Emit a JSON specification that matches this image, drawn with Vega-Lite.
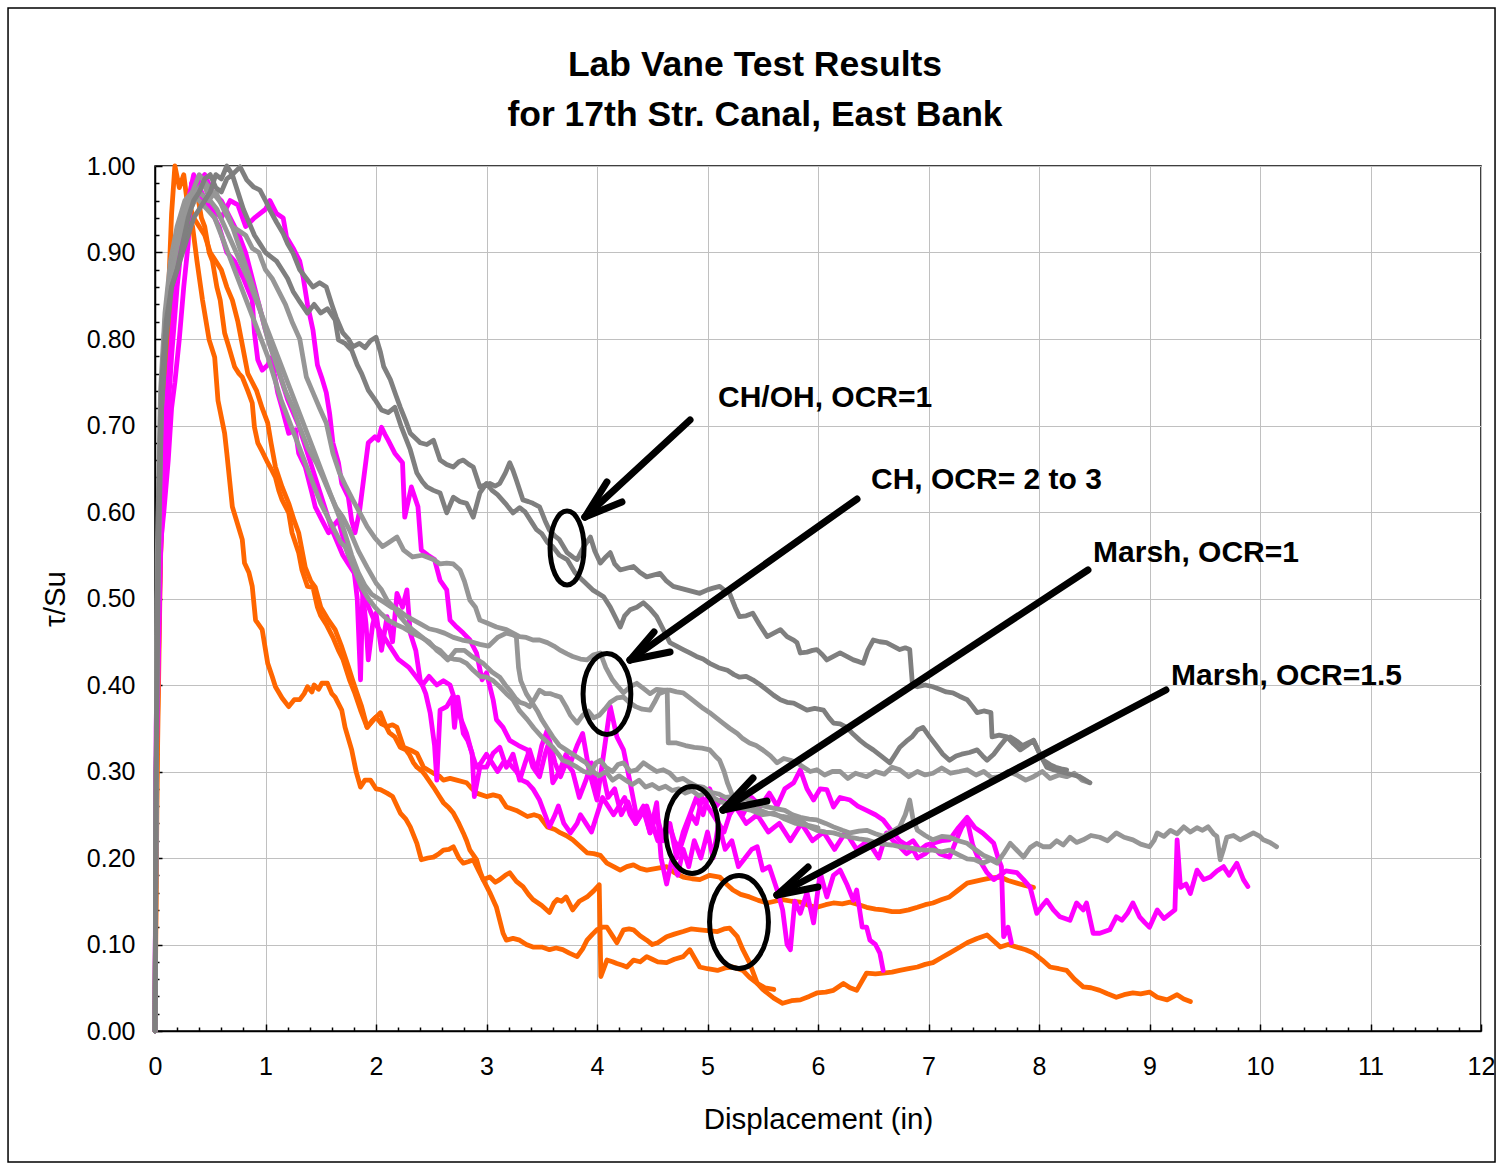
{
"$schema":"https://vega.github.io/schema/vega-lite/v6.json",
"autosize":{"type":"none"},
"padding":{"left":155,"top":166,"right":17,"bottom":135},
"width":1326,"height":865,
"background":"white",
"config":{"font":"Liberation Sans","view":{"stroke":"black","strokeWidth":1.5},
 "axis":{"domainColor":"black","domainWidth":1.5,"tickColor":"black","tickWidth":1.5,"gridColor":"#c0c0c0","gridWidth":1,"labelColor":"black","titleColor":"black","labelFont":"Liberation Sans","titleFont":"Liberation Sans","labelFontSize":25,"titleFontSize":29.5,"titleFontWeight":"normal","labelOverlap":false,"labelFlush":false}},
"title":{"text":["Lab Vane Test Results","for 17th Str. Canal, East Bank"],"font":"Liberation Sans","fontSize":35.5,"fontWeight":"bold","lineHeight":50,"anchor":"middle","frame":"group","dx":-63,"dy":126,"offset":0,"color":"black"},
"resolve":{"axis":{"x":"independent","y":"independent"}},
"datasets":{
"lines":[
{"s":"O1","x":0,"y":0},{"s":"O1","x":0.01,"y":0.2},{"s":"O1","x":0.03,"y":0.45},{"s":"O1","x":0.06,"y":0.62},{"s":"O1","x":0.1,"y":0.78},{"s":"O1","x":0.13,"y":0.88},{"s":"O1","x":0.15,"y":0.945},{"s":"O1","x":0.18,"y":1.0},{"s":"O1","x":0.22,"y":0.975},{"s":"O1","x":0.26,"y":0.99},{"s":"O1","x":0.3,"y":0.95},{"s":"O1","x":0.34,"y":0.93},{"s":"O1","x":0.38,"y":0.89},{"s":"O1","x":0.43,"y":0.845},{"s":"O1","x":0.49,"y":0.799},{"s":"O1","x":0.54,"y":0.779},{"s":"O1","x":0.57,"y":0.729},{"s":"O1","x":0.63,"y":0.691},{"s":"O1","x":0.65,"y":0.668},{"s":"O1","x":0.7,"y":0.606},{"s":"O1","x":0.75,"y":0.585},{"s":"O1","x":0.79,"y":0.568},{"s":"O1","x":0.81,"y":0.541},{"s":"O1","x":0.85,"y":0.53},{"s":"O1","x":0.88,"y":0.514},{"s":"O1","x":0.91,"y":0.475},{"s":"O1","x":0.97,"y":0.464},{"s":"O1","x":1.02,"y":0.425},{"s":"O1","x":1.06,"y":0.41},{"s":"O1","x":1.09,"y":0.398},{"s":"O1","x":1.15,"y":0.385},{"s":"O1","x":1.21,"y":0.375},{"s":"O1","x":1.26,"y":0.383},{"s":"O1","x":1.31,"y":0.383},{"s":"O1","x":1.35,"y":0.39},{"s":"O1","x":1.38,"y":0.398},{"s":"O1","x":1.42,"y":0.392},{"s":"O1","x":1.44,"y":0.4},{"s":"O1","x":1.48,"y":0.395},{"s":"O1","x":1.51,"y":0.402},{"s":"O1","x":1.56,"y":0.402},{"s":"O1","x":1.6,"y":0.39},{"s":"O1","x":1.63,"y":0.386},{"s":"O1","x":1.69,"y":0.371},{"s":"O1","x":1.72,"y":0.351},{"s":"O1","x":1.78,"y":0.325},{"s":"O1","x":1.82,"y":0.3},{"s":"O1","x":1.86,"y":0.282},{"s":"O1","x":1.9,"y":0.29},{"s":"O1","x":1.95,"y":0.29},{"s":"O1","x":2.0,"y":0.28},{"s":"O1","x":2.04,"y":0.279},{"s":"O1","x":2.1,"y":0.275},{"s":"O1","x":2.15,"y":0.271},{"s":"O1","x":2.22,"y":0.252},{"s":"O1","x":2.27,"y":0.245},{"s":"O1","x":2.31,"y":0.236},{"s":"O1","x":2.37,"y":0.217},{"s":"O1","x":2.41,"y":0.198},{"s":"O1","x":2.47,"y":0.2},{"s":"O1","x":2.52,"y":0.201},{"s":"O1","x":2.57,"y":0.205},{"s":"O1","x":2.61,"y":0.209},{"s":"O1","x":2.66,"y":0.21},{"s":"O1","x":2.7,"y":0.213},{"s":"O1","x":2.75,"y":0.2},{"s":"O1","x":2.79,"y":0.194},{"s":"O1","x":2.84,"y":0.196},{"s":"O1","x":2.88,"y":0.198},{"s":"O1","x":2.93,"y":0.185},{"s":"O1","x":2.97,"y":0.175},{"s":"O1","x":3.03,"y":0.178},{"s":"O1","x":3.08,"y":0.172},{"s":"O1","x":3.12,"y":0.175},{"s":"O1","x":3.17,"y":0.18},{"s":"O1","x":3.21,"y":0.183},{"s":"O1","x":3.27,"y":0.173},{"s":"O1","x":3.33,"y":0.167},{"s":"O1","x":3.38,"y":0.158},{"s":"O1","x":3.42,"y":0.152},{"s":"O1","x":3.5,"y":0.145},{"s":"O1","x":3.57,"y":0.137},{"s":"O1","x":3.61,"y":0.148},{"s":"O1","x":3.64,"y":0.152},{"s":"O1","x":3.68,"y":0.15},{"s":"O1","x":3.72,"y":0.155},{"s":"O1","x":3.78,"y":0.14},{"s":"O1","x":3.84,"y":0.15},{"s":"O1","x":3.91,"y":0.155},{"s":"O1","x":3.97,"y":0.162},{"s":"O1","x":4.02,"y":0.169},{"s":"O1","x":4.035,"y":0.063},{"s":"O1","x":4.09,"y":0.082},{"s":"O1","x":4.14,"y":0.08},{"s":"O1","x":4.18,"y":0.078},{"s":"O1","x":4.23,"y":0.076},{"s":"O1","x":4.27,"y":0.074},{"s":"O1","x":4.33,"y":0.082},{"s":"O1","x":4.39,"y":0.08},{"s":"O1","x":4.45,"y":0.086},{"s":"O1","x":4.5,"y":0.083},{"s":"O1","x":4.55,"y":0.08},{"s":"O1","x":4.63,"y":0.079},{"s":"O1","x":4.7,"y":0.083},{"s":"O1","x":4.78,"y":0.086},{"s":"O1","x":4.84,"y":0.094},{"s":"O1","x":4.88,"y":0.085},{"s":"O1","x":4.93,"y":0.074},{"s":"O1","x":5.0,"y":0.072},{"s":"O1","x":5.09,"y":0.07},{"s":"O1","x":5.16,"y":0.073},{"s":"O1","x":5.23,"y":0.074},{"s":"O1","x":5.32,"y":0.07},{"s":"O1","x":5.38,"y":0.062},{"s":"O1","x":5.45,"y":0.055},{"s":"O1","x":5.52,"y":0.05},{"s":"O1","x":5.6,"y":0.048},
{"s":"O2","x":0,"y":0},{"s":"O2","x":0.01,"y":0.25},{"s":"O2","x":0.04,"y":0.5},{"s":"O2","x":0.08,"y":0.68},{"s":"O2","x":0.12,"y":0.8},{"s":"O2","x":0.17,"y":0.88},{"s":"O2","x":0.22,"y":0.93},{"s":"O2","x":0.27,"y":0.95},{"s":"O2","x":0.3,"y":0.97},{"s":"O2","x":0.34,"y":0.96},{"s":"O2","x":0.38,"y":0.97},{"s":"O2","x":0.42,"y":0.94},{"s":"O2","x":0.45,"y":0.93},{"s":"O2","x":0.49,"y":0.9},{"s":"O2","x":0.52,"y":0.89},{"s":"O2","x":0.56,"y":0.86},{"s":"O2","x":0.59,"y":0.845},{"s":"O2","x":0.63,"y":0.807},{"s":"O2","x":0.67,"y":0.79},{"s":"O2","x":0.72,"y":0.768},{"s":"O2","x":0.76,"y":0.76},{"s":"O2","x":0.79,"y":0.756},{"s":"O2","x":0.84,"y":0.74},{"s":"O2","x":0.88,"y":0.726},{"s":"O2","x":0.9,"y":0.698},{"s":"O2","x":0.93,"y":0.68},{"s":"O2","x":0.97,"y":0.67},{"s":"O2","x":1.02,"y":0.657},{"s":"O2","x":1.05,"y":0.65},{"s":"O2","x":1.09,"y":0.64},{"s":"O2","x":1.12,"y":0.625},{"s":"O2","x":1.15,"y":0.614},{"s":"O2","x":1.21,"y":0.599},{"s":"O2","x":1.24,"y":0.576},{"s":"O2","x":1.3,"y":0.553},{"s":"O2","x":1.33,"y":0.533},{"s":"O2","x":1.38,"y":0.514},{"s":"O2","x":1.43,"y":0.513},{"s":"O2","x":1.47,"y":0.49},{"s":"O2","x":1.5,"y":0.48},{"s":"O2","x":1.55,"y":0.47},{"s":"O2","x":1.61,"y":0.455},{"s":"O2","x":1.66,"y":0.44},{"s":"O2","x":1.7,"y":0.43},{"s":"O2","x":1.76,"y":0.406},{"s":"O2","x":1.81,"y":0.39},{"s":"O2","x":1.86,"y":0.371},{"s":"O2","x":1.92,"y":0.351},{"s":"O2","x":1.98,"y":0.36},{"s":"O2","x":2.04,"y":0.368},{"s":"O2","x":2.08,"y":0.355},{"s":"O2","x":2.12,"y":0.345},{"s":"O2","x":2.17,"y":0.34},{"s":"O2","x":2.22,"y":0.328},{"s":"O2","x":2.27,"y":0.325},{"s":"O2","x":2.3,"y":0.32},{"s":"O2","x":2.34,"y":0.31},{"s":"O2","x":2.37,"y":0.305},{"s":"O2","x":2.42,"y":0.3},{"s":"O2","x":2.45,"y":0.295},{"s":"O2","x":2.52,"y":0.282},{"s":"O2","x":2.57,"y":0.272},{"s":"O2","x":2.61,"y":0.264},{"s":"O2","x":2.66,"y":0.258},{"s":"O2","x":2.7,"y":0.252},{"s":"O2","x":2.75,"y":0.24},{"s":"O2","x":2.79,"y":0.229},{"s":"O2","x":2.82,"y":0.22},{"s":"O2","x":2.85,"y":0.209},{"s":"O2","x":2.91,"y":0.198},{"s":"O2","x":2.94,"y":0.185},{"s":"O2","x":2.97,"y":0.175},{"s":"O2","x":3.03,"y":0.16},{"s":"O2","x":3.09,"y":0.143},{"s":"O2","x":3.15,"y":0.113},{"s":"O2","x":3.18,"y":0.105},{"s":"O2","x":3.24,"y":0.107},{"s":"O2","x":3.3,"y":0.105},{"s":"O2","x":3.36,"y":0.1},{"s":"O2","x":3.42,"y":0.097},{"s":"O2","x":3.5,"y":0.097},{"s":"O2","x":3.57,"y":0.094},{"s":"O2","x":3.63,"y":0.096},{"s":"O2","x":3.69,"y":0.094},{"s":"O2","x":3.75,"y":0.09},{"s":"O2","x":3.82,"y":0.086},{"s":"O2","x":3.87,"y":0.095},{"s":"O2","x":3.91,"y":0.105},{"s":"O2","x":3.96,"y":0.112},{"s":"O2","x":4.0,"y":0.117},{"s":"O2","x":4.05,"y":0.12},{"s":"O2","x":4.09,"y":0.12},{"s":"O2","x":4.14,"y":0.11},{"s":"O2","x":4.18,"y":0.102},{"s":"O2","x":4.24,"y":0.117},{"s":"O2","x":4.29,"y":0.118},{"s":"O2","x":4.33,"y":0.117},{"s":"O2","x":4.39,"y":0.11},{"s":"O2","x":4.45,"y":0.105},{"s":"O2","x":4.5,"y":0.1},{"s":"O2","x":4.55,"y":0.102},{"s":"O2","x":4.63,"y":0.109},{"s":"O2","x":4.7,"y":0.112},{"s":"O2","x":4.78,"y":0.115},{"s":"O2","x":4.85,"y":0.118},{"s":"O2","x":4.93,"y":0.117},{"s":"O2","x":5.0,"y":0.116},{"s":"O2","x":5.09,"y":0.115},{"s":"O2","x":5.15,"y":0.118},{"s":"O2","x":5.2,"y":0.119},{"s":"O2","x":5.27,"y":0.109},{"s":"O2","x":5.32,"y":0.094},{"s":"O2","x":5.38,"y":0.079},{"s":"O2","x":5.45,"y":0.055},{"s":"O2","x":5.5,"y":0.048},{"s":"O2","x":5.54,"y":0.044},{"s":"O2","x":5.6,"y":0.038},{"s":"O2","x":5.68,"y":0.032},{"s":"O2","x":5.76,"y":0.035},{"s":"O2","x":5.84,"y":0.036},{"s":"O2","x":5.92,"y":0.04},{"s":"O2","x":5.99,"y":0.044},{"s":"O2","x":6.07,"y":0.045},{"s":"O2","x":6.14,"y":0.047},{"s":"O2","x":6.23,"y":0.055},{"s":"O2","x":6.29,"y":0.05},{"s":"O2","x":6.35,"y":0.047},{"s":"O2","x":6.44,"y":0.067},{"s":"O2","x":6.52,"y":0.066},{"s":"O2","x":6.59,"y":0.067},{"s":"O2","x":6.67,"y":0.068},{"s":"O2","x":6.74,"y":0.07},{"s":"O2","x":6.82,"y":0.072},{"s":"O2","x":6.9,"y":0.074},{"s":"O2","x":6.97,"y":0.077},{"s":"O2","x":7.04,"y":0.079},{"s":"O2","x":7.12,"y":0.085},{"s":"O2","x":7.19,"y":0.09},{"s":"O2","x":7.27,"y":0.096},{"s":"O2","x":7.35,"y":0.102},{"s":"O2","x":7.44,"y":0.107},{"s":"O2","x":7.53,"y":0.111},{"s":"O2","x":7.59,"y":0.104},{"s":"O2","x":7.65,"y":0.097},{"s":"O2","x":7.72,"y":0.1},{"s":"O2","x":7.8,"y":0.097},{"s":"O2","x":7.88,"y":0.094},{"s":"O2","x":7.95,"y":0.09},{"s":"O2","x":8.03,"y":0.082},{"s":"O2","x":8.1,"y":0.074},{"s":"O2","x":8.18,"y":0.072},{"s":"O2","x":8.25,"y":0.07},{"s":"O2","x":8.32,"y":0.06},{"s":"O2","x":8.4,"y":0.051},{"s":"O2","x":8.47,"y":0.05},{"s":"O2","x":8.55,"y":0.047},{"s":"O2","x":8.62,"y":0.043},{"s":"O2","x":8.7,"y":0.039},{"s":"O2","x":8.77,"y":0.042},{"s":"O2","x":8.85,"y":0.044},{"s":"O2","x":8.92,"y":0.043},{"s":"O2","x":9.0,"y":0.045},{"s":"O2","x":9.07,"y":0.039},{"s":"O2","x":9.16,"y":0.036},{"s":"O2","x":9.25,"y":0.042},{"s":"O2","x":9.31,"y":0.037},{"s":"O2","x":9.37,"y":0.034},
{"s":"O3","x":0,"y":0},{"s":"O3","x":0.02,"y":0.3},{"s":"O3","x":0.05,"y":0.55},{"s":"O3","x":0.09,"y":0.72},{"s":"O3","x":0.13,"y":0.82},{"s":"O3","x":0.18,"y":0.88},{"s":"O3","x":0.22,"y":0.92},{"s":"O3","x":0.26,"y":0.95},{"s":"O3","x":0.3,"y":0.96},{"s":"O3","x":0.35,"y":0.94},{"s":"O3","x":0.4,"y":0.93},{"s":"O3","x":0.45,"y":0.92},{"s":"O3","x":0.5,"y":0.9},{"s":"O3","x":0.55,"y":0.89},{"s":"O3","x":0.6,"y":0.88},{"s":"O3","x":0.65,"y":0.86},{"s":"O3","x":0.7,"y":0.845},{"s":"O3","x":0.75,"y":0.82},{"s":"O3","x":0.78,"y":0.8},{"s":"O3","x":0.84,"y":0.76},{"s":"O3","x":0.88,"y":0.75},{"s":"O3","x":0.92,"y":0.74},{"s":"O3","x":0.97,"y":0.72},{"s":"O3","x":1.02,"y":0.703},{"s":"O3","x":1.05,"y":0.68},{"s":"O3","x":1.09,"y":0.652},{"s":"O3","x":1.15,"y":0.629},{"s":"O3","x":1.21,"y":0.61},{"s":"O3","x":1.26,"y":0.59},{"s":"O3","x":1.3,"y":0.576},{"s":"O3","x":1.36,"y":0.536},{"s":"O3","x":1.41,"y":0.52},{"s":"O3","x":1.45,"y":0.513},{"s":"O3","x":1.5,"y":0.49},{"s":"O3","x":1.57,"y":0.475},{"s":"O3","x":1.63,"y":0.464},{"s":"O3","x":1.69,"y":0.444},{"s":"O3","x":1.75,"y":0.421},{"s":"O3","x":1.79,"y":0.405},{"s":"O3","x":1.83,"y":0.39},{"s":"O3","x":1.87,"y":0.375},{"s":"O3","x":1.92,"y":0.351},{"s":"O3","x":1.96,"y":0.358},{"s":"O3","x":2.0,"y":0.363},{"s":"O3","x":2.05,"y":0.355},{"s":"O3","x":2.1,"y":0.352},{"s":"O3","x":2.15,"y":0.354},{"s":"O3","x":2.19,"y":0.351},{"s":"O3","x":2.25,"y":0.328},{"s":"O3","x":2.31,"y":0.325},{"s":"O3","x":2.37,"y":0.321},{"s":"O3","x":2.43,"y":0.305},{"s":"O3","x":2.52,"y":0.298},{"s":"O3","x":2.57,"y":0.295},{"s":"O3","x":2.61,"y":0.29},{"s":"O3","x":2.67,"y":0.292},{"s":"O3","x":2.73,"y":0.29},{"s":"O3","x":2.82,"y":0.287},{"s":"O3","x":2.87,"y":0.28},{"s":"O3","x":2.91,"y":0.275},{"s":"O3","x":3.0,"y":0.271},{"s":"O3","x":3.06,"y":0.273},{"s":"O3","x":3.12,"y":0.271},{"s":"O3","x":3.18,"y":0.259},{"s":"O3","x":3.27,"y":0.255},{"s":"O3","x":3.37,"y":0.248},{"s":"O3","x":3.43,"y":0.25},{"s":"O3","x":3.48,"y":0.248},{"s":"O3","x":3.55,"y":0.236},{"s":"O3","x":3.62,"y":0.233},{"s":"O3","x":3.67,"y":0.229},{"s":"O3","x":3.72,"y":0.226},{"s":"O3","x":3.78,"y":0.221},{"s":"O3","x":3.85,"y":0.213},{"s":"O3","x":3.91,"y":0.206},{"s":"O3","x":3.97,"y":0.205},{"s":"O3","x":4.03,"y":0.203},{"s":"O3","x":4.09,"y":0.194},{"s":"O3","x":4.15,"y":0.19},{"s":"O3","x":4.21,"y":0.186},{"s":"O3","x":4.27,"y":0.19},{"s":"O3","x":4.33,"y":0.192},{"s":"O3","x":4.39,"y":0.188},{"s":"O3","x":4.45,"y":0.186},{"s":"O3","x":4.54,"y":0.188},{"s":"O3","x":4.63,"y":0.19},{"s":"O3","x":4.7,"y":0.183},{"s":"O3","x":4.78,"y":0.178},{"s":"O3","x":4.86,"y":0.176},{"s":"O3","x":4.93,"y":0.175},{"s":"O3","x":5.02,"y":0.18},{"s":"O3","x":5.11,"y":0.178},{"s":"O3","x":5.17,"y":0.17},{"s":"O3","x":5.23,"y":0.163},{"s":"O3","x":5.3,"y":0.158},{"s":"O3","x":5.38,"y":0.155},{"s":"O3","x":5.46,"y":0.151},{"s":"O3","x":5.54,"y":0.148},{"s":"O3","x":5.61,"y":0.15},{"s":"O3","x":5.68,"y":0.152},{"s":"O3","x":5.76,"y":0.15},{"s":"O3","x":5.84,"y":0.149},{"s":"O3","x":5.92,"y":0.145},{"s":"O3","x":5.99,"y":0.143},{"s":"O3","x":6.07,"y":0.146},{"s":"O3","x":6.14,"y":0.148},{"s":"O3","x":6.22,"y":0.147},{"s":"O3","x":6.29,"y":0.149},{"s":"O3","x":6.37,"y":0.146},{"s":"O3","x":6.44,"y":0.143},{"s":"O3","x":6.52,"y":0.141},{"s":"O3","x":6.59,"y":0.14},{"s":"O3","x":6.67,"y":0.138},{"s":"O3","x":6.74,"y":0.138},{"s":"O3","x":6.82,"y":0.14},{"s":"O3","x":6.9,"y":0.143},{"s":"O3","x":6.97,"y":0.146},{"s":"O3","x":7.04,"y":0.148},{"s":"O3","x":7.12,"y":0.152},{"s":"O3","x":7.19,"y":0.155},{"s":"O3","x":7.27,"y":0.163},{"s":"O3","x":7.35,"y":0.171},{"s":"O3","x":7.42,"y":0.173},{"s":"O3","x":7.49,"y":0.175},{"s":"O3","x":7.57,"y":0.177},{"s":"O3","x":7.65,"y":0.178},{"s":"O3","x":7.72,"y":0.174},{"s":"O3","x":7.8,"y":0.171},{"s":"O3","x":7.88,"y":0.168},{"s":"O3","x":7.95,"y":0.166},
{"s":"MA","x":0,"y":0},{"s":"MA","x":0.01,"y":0.35},{"s":"MA","x":0.04,"y":0.55},{"s":"MA","x":0.08,"y":0.6},{"s":"MA","x":0.12,"y":0.66},{"s":"MA","x":0.15,"y":0.72},{"s":"MA","x":0.18,"y":0.75},{"s":"MA","x":0.22,"y":0.8},{"s":"MA","x":0.26,"y":0.86},{"s":"MA","x":0.3,"y":0.91},{"s":"MA","x":0.33,"y":0.98},{"s":"MA","x":0.38,"y":0.97},{"s":"MA","x":0.45,"y":0.96},{"s":"MA","x":0.52,"y":0.95},{"s":"MA","x":0.6,"y":0.94},{"s":"MA","x":0.68,"y":0.96},{"s":"MA","x":0.75,"y":0.955},{"s":"MA","x":0.82,"y":0.93},{"s":"MA","x":0.9,"y":0.94},{"s":"MA","x":1.0,"y":0.95},{"s":"MA","x":1.04,"y":0.96},{"s":"MA","x":1.1,"y":0.945},{"s":"MA","x":1.16,"y":0.94},{"s":"MA","x":1.19,"y":0.918},{"s":"MA","x":1.25,"y":0.905},{"s":"MA","x":1.31,"y":0.89},{"s":"MA","x":1.34,"y":0.872},{"s":"MA","x":1.38,"y":0.84},{"s":"MA","x":1.43,"y":0.81},{"s":"MA","x":1.47,"y":0.77},{"s":"MA","x":1.51,"y":0.755},{"s":"MA","x":1.55,"y":0.738},{"s":"MA","x":1.58,"y":0.714},{"s":"MA","x":1.61,"y":0.68},{"s":"MA","x":1.66,"y":0.657},{"s":"MA","x":1.69,"y":0.633},{"s":"MA","x":1.75,"y":0.617},{"s":"MA","x":1.78,"y":0.59},{"s":"MA","x":1.81,"y":0.576},{"s":"MA","x":1.85,"y":0.6},{"s":"MA","x":1.89,"y":0.64},{"s":"MA","x":1.93,"y":0.68},{"s":"MA","x":1.99,"y":0.687},{"s":"MA","x":2.02,"y":0.683},{"s":"MA","x":2.05,"y":0.698},{"s":"MA","x":2.08,"y":0.69},{"s":"MA","x":2.11,"y":0.683},{"s":"MA","x":2.17,"y":0.668},{"s":"MA","x":2.24,"y":0.657},{"s":"MA","x":2.26,"y":0.594},{"s":"MA","x":2.32,"y":0.629},{"s":"MA","x":2.38,"y":0.606},{"s":"MA","x":2.41,"y":0.556},{"s":"MA","x":2.47,"y":0.55},{"s":"MA","x":2.53,"y":0.545},{"s":"MA","x":2.58,"y":0.521},{"s":"MA","x":2.64,"y":0.51},{"s":"MA","x":2.67,"y":0.475},{"s":"MA","x":2.73,"y":0.467},{"s":"MA","x":2.79,"y":0.46},{"s":"MA","x":2.85,"y":0.452},{"s":"MA","x":2.91,"y":0.437},{"s":"MA","x":2.96,"y":0.406},{"s":"MA","x":3.0,"y":0.414},{"s":"MA","x":3.06,"y":0.383},{"s":"MA","x":3.09,"y":0.36},{"s":"MA","x":3.15,"y":0.351},{"s":"MA","x":3.21,"y":0.336},{"s":"MA","x":3.29,"y":0.33},{"s":"MA","x":3.37,"y":0.325},{"s":"MA","x":3.42,"y":0.305},{"s":"MA","x":3.48,"y":0.294},{"s":"MA","x":3.53,"y":0.32},{"s":"MA","x":3.57,"y":0.336},{"s":"MA","x":3.62,"y":0.31},{"s":"MA","x":3.67,"y":0.294},{"s":"MA","x":3.72,"y":0.31},{"s":"MA","x":3.78,"y":0.3},{"s":"MA","x":3.84,"y":0.27},{"s":"MA","x":3.9,"y":0.29},{"s":"MA","x":3.95,"y":0.31},{"s":"MA","x":4.0,"y":0.28},{"s":"MA","x":4.05,"y":0.3},{"s":"MA","x":4.1,"y":0.27},{"s":"MA","x":4.16,"y":0.28},{"s":"MA","x":4.22,"y":0.25},{"s":"MA","x":4.28,"y":0.265},{"s":"MA","x":4.35,"y":0.24},{"s":"MA","x":4.42,"y":0.255},{"s":"MA","x":4.48,"y":0.229},{"s":"MA","x":4.54,"y":0.264},{"s":"MA","x":4.58,"y":0.2},{"s":"MA","x":4.63,"y":0.17},{"s":"MA","x":4.68,"y":0.2},{"s":"MA","x":4.73,"y":0.18},{"s":"MA","x":4.78,"y":0.21},{"s":"MA","x":4.83,"y":0.19},{"s":"MA","x":4.88,"y":0.22},{"s":"MA","x":4.94,"y":0.2},{"s":"MA","x":5.0,"y":0.23},{"s":"MA","x":5.05,"y":0.2},{"s":"MA","x":5.1,"y":0.24},{"s":"MA","x":5.16,"y":0.21},{"s":"MA","x":5.22,"y":0.22},{"s":"MA","x":5.28,"y":0.19},{"s":"MA","x":5.34,"y":0.2},{"s":"MA","x":5.4,"y":0.21},{"s":"MA","x":5.45,"y":0.213},{"s":"MA","x":5.5,"y":0.186},{"s":"MA","x":5.56,"y":0.19},{"s":"MA","x":5.63,"y":0.163},{"s":"MA","x":5.68,"y":0.14},{"s":"MA","x":5.72,"y":0.1},{"s":"MA","x":5.75,"y":0.094},{"s":"MA","x":5.79,"y":0.15},{"s":"MA","x":5.84,"y":0.136},{"s":"MA","x":5.9,"y":0.16},{"s":"MA","x":5.96,"y":0.125},{"s":"MA","x":6.02,"y":0.183},{"s":"MA","x":6.08,"y":0.155},{"s":"MA","x":6.14,"y":0.18},{"s":"MA","x":6.2,"y":0.186},{"s":"MA","x":6.26,"y":0.17},{"s":"MA","x":6.32,"y":0.151},{"s":"MA","x":6.35,"y":0.163},{"s":"MA","x":6.4,"y":0.12},{"s":"MA","x":6.44,"y":0.12},{"s":"MA","x":6.47,"y":0.105},{"s":"MA","x":6.52,"y":0.1},{"s":"MA","x":6.56,"y":0.09},{"s":"MA","x":6.59,"y":0.07},
{"s":"MB","x":0,"y":0},{"s":"MB","x":0.01,"y":0.3},{"s":"MB","x":0.05,"y":0.6},{"s":"MB","x":0.1,"y":0.72},{"s":"MB","x":0.15,"y":0.8},{"s":"MB","x":0.2,"y":0.88},{"s":"MB","x":0.25,"y":0.93},{"s":"MB","x":0.3,"y":0.96},{"s":"MB","x":0.35,"y":0.99},{"s":"MB","x":0.42,"y":0.97},{"s":"MB","x":0.5,"y":0.95},{"s":"MB","x":0.58,"y":0.93},{"s":"MB","x":0.65,"y":0.9},{"s":"MB","x":0.72,"y":0.89},{"s":"MB","x":0.8,"y":0.87},{"s":"MB","x":0.88,"y":0.845},{"s":"MB","x":0.9,"y":0.807},{"s":"MB","x":0.93,"y":0.776},{"s":"MB","x":0.97,"y":0.764},{"s":"MB","x":1.02,"y":0.77},{"s":"MB","x":1.06,"y":0.779},{"s":"MB","x":1.08,"y":0.76},{"s":"MB","x":1.11,"y":0.738},{"s":"MB","x":1.15,"y":0.72},{"s":"MB","x":1.21,"y":0.691},{"s":"MB","x":1.27,"y":0.695},{"s":"MB","x":1.3,"y":0.668},{"s":"MB","x":1.33,"y":0.66},{"s":"MB","x":1.36,"y":0.652},{"s":"MB","x":1.42,"y":0.622},{"s":"MB","x":1.45,"y":0.606},{"s":"MB","x":1.51,"y":0.591},{"s":"MB","x":1.57,"y":0.576},{"s":"MB","x":1.62,"y":0.585},{"s":"MB","x":1.66,"y":0.591},{"s":"MB","x":1.69,"y":0.576},{"s":"MB","x":1.75,"y":0.55},{"s":"MB","x":1.79,"y":0.545},{"s":"MB","x":1.83,"y":0.5},{"s":"MB","x":1.86,"y":0.406},{"s":"MB","x":1.88,"y":0.506},{"s":"MB","x":1.91,"y":0.47},{"s":"MB","x":1.93,"y":0.429},{"s":"MB","x":1.97,"y":0.47},{"s":"MB","x":2.0,"y":0.483},{"s":"MB","x":2.05,"y":0.44},{"s":"MB","x":2.1,"y":0.479},{"s":"MB","x":2.15,"y":0.45},{"s":"MB","x":2.19,"y":0.506},{"s":"MB","x":2.24,"y":0.49},{"s":"MB","x":2.28,"y":0.51},{"s":"MB","x":2.31,"y":0.46},{"s":"MB","x":2.36,"y":0.44},{"s":"MB","x":2.4,"y":0.406},{"s":"MB","x":2.45,"y":0.39},{"s":"MB","x":2.49,"y":0.368},{"s":"MB","x":2.53,"y":0.33},{"s":"MB","x":2.55,"y":0.29},{"s":"MB","x":2.58,"y":0.371},{"s":"MB","x":2.64,"y":0.375},{"s":"MB","x":2.69,"y":0.386},{"s":"MB","x":2.71,"y":0.351},{"s":"MB","x":2.74,"y":0.386},{"s":"MB","x":2.79,"y":0.344},{"s":"MB","x":2.83,"y":0.336},{"s":"MB","x":2.87,"y":0.321},{"s":"MB","x":2.89,"y":0.271},{"s":"MB","x":2.94,"y":0.305},{"s":"MB","x":3.0,"y":0.305},{"s":"MB","x":3.06,"y":0.321},{"s":"MB","x":3.12,"y":0.328},{"s":"MB","x":3.18,"y":0.305},{"s":"MB","x":3.24,"y":0.32},{"s":"MB","x":3.3,"y":0.29},{"s":"MB","x":3.35,"y":0.31},{"s":"MB","x":3.39,"y":0.325},{"s":"MB","x":3.45,"y":0.3},{"s":"MB","x":3.5,"y":0.33},{"s":"MB","x":3.55,"y":0.348},{"s":"MB","x":3.6,"y":0.287},{"s":"MB","x":3.66,"y":0.3},{"s":"MB","x":3.72,"y":0.32},{"s":"MB","x":3.76,"y":0.31},{"s":"MB","x":3.82,"y":0.33},{"s":"MB","x":3.87,"y":0.344},{"s":"MB","x":3.93,"y":0.3},{"s":"MB","x":4.0,"y":0.267},{"s":"MB","x":4.06,"y":0.32},{"s":"MB","x":4.12,"y":0.375},{"s":"MB","x":4.18,"y":0.34},{"s":"MB","x":4.24,"y":0.325},{"s":"MB","x":4.3,"y":0.287},{"s":"MB","x":4.36,"y":0.247},{"s":"MB","x":4.42,"y":0.26},{"s":"MB","x":4.48,"y":0.229},{"s":"MB","x":4.54,"y":0.25},{"s":"MB","x":4.6,"y":0.22},{"s":"MB","x":4.66,"y":0.24},{"s":"MB","x":4.72,"y":0.2},{"s":"MB","x":4.78,"y":0.23},{"s":"MB","x":4.84,"y":0.25},{"s":"MB","x":4.9,"y":0.27},{"s":"MB","x":4.96,"y":0.25},{"s":"MB","x":5.02,"y":0.28},{"s":"MB","x":5.08,"y":0.26},{"s":"MB","x":5.14,"y":0.27},{"s":"MB","x":5.2,"y":0.25},{"s":"MB","x":5.26,"y":0.265},{"s":"MB","x":5.32,"y":0.25},{"s":"MB","x":5.4,"y":0.27},{"s":"MB","x":5.48,"y":0.26},{"s":"MB","x":5.56,"y":0.275},{"s":"MB","x":5.63,"y":0.26},{"s":"MB","x":5.7,"y":0.28},{"s":"MB","x":5.78,"y":0.287},{"s":"MB","x":5.84,"y":0.302},{"s":"MB","x":5.9,"y":0.28},{"s":"MB","x":5.96,"y":0.267},{"s":"MB","x":6.02,"y":0.28},{"s":"MB","x":6.08,"y":0.279},{"s":"MB","x":6.14,"y":0.259},{"s":"MB","x":6.2,"y":0.27},{"s":"MB","x":6.29,"y":0.267},{"s":"MB","x":6.36,"y":0.26},{"s":"MB","x":6.44,"y":0.255},{"s":"MB","x":6.52,"y":0.25},{"s":"MB","x":6.59,"y":0.244},{"s":"MB","x":6.68,"y":0.229},{"s":"MB","x":6.74,"y":0.22},{"s":"MB","x":6.8,"y":0.215},{"s":"MB","x":6.86,"y":0.22},{"s":"MB","x":6.92,"y":0.209},{"s":"MB","x":6.98,"y":0.215},{"s":"MB","x":7.04,"y":0.217},{"s":"MB","x":7.12,"y":0.22},{"s":"MB","x":7.19,"y":0.221},{"s":"MB","x":7.27,"y":0.235},{"s":"MB","x":7.35,"y":0.247},{"s":"MB","x":7.42,"y":0.235},{"s":"MB","x":7.49,"y":0.229},{"s":"MB","x":7.55,"y":0.222},{"s":"MB","x":7.59,"y":0.217},{"s":"MB","x":7.63,"y":0.2},{"s":"MB","x":7.66,"y":0.19},{"s":"MB","x":7.68,"y":0.109},{"s":"MB","x":7.72,"y":0.12},{"s":"MB","x":7.75,"y":0.102},
{"s":"MC","x":0,"y":0},{"s":"MC","x":0.01,"y":0.3},{"s":"MC","x":0.05,"y":0.55},{"s":"MC","x":0.1,"y":0.68},{"s":"MC","x":0.15,"y":0.78},{"s":"MC","x":0.2,"y":0.86},{"s":"MC","x":0.25,"y":0.92},{"s":"MC","x":0.3,"y":0.95},{"s":"MC","x":0.38,"y":0.98},{"s":"MC","x":0.45,"y":0.99},{"s":"MC","x":0.52,"y":0.97},{"s":"MC","x":0.6,"y":0.96},{"s":"MC","x":0.68,"y":0.94},{"s":"MC","x":0.76,"y":0.92},{"s":"MC","x":0.82,"y":0.9},{"s":"MC","x":0.88,"y":0.87},{"s":"MC","x":0.94,"y":0.84},{"s":"MC","x":1.0,"y":0.81},{"s":"MC","x":1.05,"y":0.79},{"s":"MC","x":1.1,"y":0.77},{"s":"MC","x":1.15,"y":0.75},{"s":"MC","x":1.2,"y":0.73},{"s":"MC","x":1.25,"y":0.715},{"s":"MC","x":1.3,"y":0.7},{"s":"MC","x":1.35,"y":0.68},{"s":"MC","x":1.4,"y":0.66},{"s":"MC","x":1.45,"y":0.64},{"s":"MC","x":1.5,"y":0.62},{"s":"MC","x":1.55,"y":0.6},{"s":"MC","x":1.6,"y":0.58},{"s":"MC","x":1.65,"y":0.565},{"s":"MC","x":1.7,"y":0.55},{"s":"MC","x":1.75,"y":0.54},{"s":"MC","x":1.8,"y":0.53},{"s":"MC","x":1.85,"y":0.515},{"s":"MC","x":1.9,"y":0.5},{"s":"MC","x":1.95,"y":0.485},{"s":"MC","x":2.0,"y":0.47},{"s":"MC","x":2.05,"y":0.46},{"s":"MC","x":2.1,"y":0.45},{"s":"MC","x":2.15,"y":0.44},{"s":"MC","x":2.2,"y":0.43},{"s":"MC","x":2.25,"y":0.425},{"s":"MC","x":2.3,"y":0.42},{"s":"MC","x":2.36,"y":0.41},{"s":"MC","x":2.42,"y":0.4},{"s":"MC","x":2.48,"y":0.41},{"s":"MC","x":2.55,"y":0.4},{"s":"MC","x":2.61,"y":0.405},{"s":"MC","x":2.67,"y":0.4},{"s":"MC","x":2.72,"y":0.38},{"s":"MC","x":2.77,"y":0.36},{"s":"MC","x":2.82,"y":0.344},{"s":"MC","x":2.87,"y":0.32},{"s":"MC","x":2.91,"y":0.305},{"s":"MC","x":2.95,"y":0.31},{"s":"MC","x":3.0,"y":0.32},{"s":"MC","x":3.05,"y":0.31},{"s":"MC","x":3.1,"y":0.3},{"s":"MC","x":3.15,"y":0.31},{"s":"MC","x":3.2,"y":0.31},{"s":"MC","x":3.27,"y":0.3},{"s":"MC","x":3.32,"y":0.29},{"s":"MC","x":3.37,"y":0.287},{"s":"MC","x":3.42,"y":0.28},{"s":"MC","x":3.48,"y":0.267},{"s":"MC","x":3.53,"y":0.25},{"s":"MC","x":3.57,"y":0.236},{"s":"MC","x":3.62,"y":0.25},{"s":"MC","x":3.65,"y":0.26},{"s":"MC","x":3.7,"y":0.24},{"s":"MC","x":3.76,"y":0.229},{"s":"MC","x":3.82,"y":0.24},{"s":"MC","x":3.85,"y":0.25},{"s":"MC","x":3.9,"y":0.24},{"s":"MC","x":3.95,"y":0.23},{"s":"MC","x":4.0,"y":0.25},{"s":"MC","x":4.05,"y":0.27},{"s":"MC","x":4.1,"y":0.26},{"s":"MC","x":4.15,"y":0.25},{"s":"MC","x":4.2,"y":0.26},{"s":"MC","x":4.25,"y":0.27},{"s":"MC","x":4.3,"y":0.25},{"s":"MC","x":4.35,"y":0.24},{"s":"MC","x":4.4,"y":0.25},{"s":"MC","x":4.45,"y":0.26},{"s":"MC","x":4.5,"y":0.24},{"s":"MC","x":4.55,"y":0.22},{"s":"MC","x":4.6,"y":0.23},{"s":"MC","x":4.65,"y":0.24},{"s":"MC","x":4.7,"y":0.22},{"s":"MC","x":4.75,"y":0.21},{"s":"MC","x":4.8,"y":0.23},{"s":"MC","x":4.85,"y":0.25},{"s":"MC","x":4.9,"y":0.24},{"s":"MC","x":4.95,"y":0.27},{"s":"MC","x":5.0,"y":0.26},{"s":"MC","x":5.05,"y":0.25},{"s":"MC","x":5.1,"y":0.24},{"s":"MC","x":5.15,"y":0.23},{"s":"MC","x":5.2,"y":0.25},{"s":"MC","x":5.25,"y":0.26},{"s":"MC","x":5.3,"y":0.25},{"s":"MC","x":5.35,"y":0.24},{"s":"MC","x":5.4,"y":0.245},{"s":"MC","x":5.45,"y":0.25},{"s":"MC","x":5.5,"y":0.24},{"s":"MC","x":5.55,"y":0.23},{"s":"MC","x":5.6,"y":0.235},{"s":"MC","x":5.65,"y":0.24},{"s":"MC","x":5.7,"y":0.23},{"s":"MC","x":5.75,"y":0.22},{"s":"MC","x":5.8,"y":0.23},{"s":"MC","x":5.85,"y":0.24},{"s":"MC","x":5.9,"y":0.23},{"s":"MC","x":5.95,"y":0.22},{"s":"MC","x":6.0,"y":0.225},{"s":"MC","x":6.05,"y":0.23},{"s":"MC","x":6.1,"y":0.22},{"s":"MC","x":6.15,"y":0.21},{"s":"MC","x":6.2,"y":0.22},{"s":"MC","x":6.25,"y":0.23},{"s":"MC","x":6.3,"y":0.22},{"s":"MC","x":6.35,"y":0.21},{"s":"MC","x":6.4,"y":0.215},{"s":"MC","x":6.45,"y":0.22},{"s":"MC","x":6.5,"y":0.21},{"s":"MC","x":6.55,"y":0.2},{"s":"MC","x":6.62,"y":0.229},{"s":"MC","x":6.68,"y":0.22},{"s":"MC","x":6.74,"y":0.213},{"s":"MC","x":6.8,"y":0.205},{"s":"MC","x":6.86,"y":0.21},{"s":"MC","x":6.9,"y":0.2},{"s":"MC","x":6.97,"y":0.205},{"s":"MC","x":7.04,"y":0.213},{"s":"MC","x":7.1,"y":0.205},{"s":"MC","x":7.19,"y":0.201},{"s":"MC","x":7.25,"y":0.22},{"s":"MC","x":7.3,"y":0.235},{"s":"MC","x":7.35,"y":0.244},{"s":"MC","x":7.4,"y":0.215},{"s":"MC","x":7.45,"y":0.2},{"s":"MC","x":7.53,"y":0.183},{"s":"MC","x":7.59,"y":0.175},{"s":"MC","x":7.65,"y":0.18},{"s":"MC","x":7.7,"y":0.185},{"s":"MC","x":7.8,"y":0.183},{"s":"MC","x":7.86,"y":0.175},{"s":"MC","x":7.92,"y":0.166},{"s":"MC","x":7.98,"y":0.136},{"s":"MC","x":8.03,"y":0.145},{"s":"MC","x":8.07,"y":0.151},{"s":"MC","x":8.13,"y":0.14},{"s":"MC","x":8.19,"y":0.132},{"s":"MC","x":8.28,"y":0.128},{"s":"MC","x":8.34,"y":0.148},{"s":"MC","x":8.4,"y":0.14},{"s":"MC","x":8.43,"y":0.148},{"s":"MC","x":8.49,"y":0.113},{"s":"MC","x":8.55,"y":0.113},{"s":"MC","x":8.64,"y":0.117},{"s":"MC","x":8.7,"y":0.132},{"s":"MC","x":8.75,"y":0.128},{"s":"MC","x":8.8,"y":0.136},{"s":"MC","x":8.85,"y":0.148},{"s":"MC","x":8.91,"y":0.132},{"s":"MC","x":8.96,"y":0.125},{"s":"MC","x":9.0,"y":0.12},{"s":"MC","x":9.07,"y":0.14},{"s":"MC","x":9.13,"y":0.13},{"s":"MC","x":9.19,"y":0.136},{"s":"MC","x":9.23,"y":0.14},{"s":"MC","x":9.25,"y":0.221},{"s":"MC","x":9.28,"y":0.166},{"s":"MC","x":9.33,"y":0.17},{"s":"MC","x":9.37,"y":0.159},{"s":"MC","x":9.43,"y":0.186},{"s":"MC","x":9.49,"y":0.175},{"s":"MC","x":9.55,"y":0.178},{"s":"MC","x":9.61,"y":0.185},{"s":"MC","x":9.67,"y":0.19},{"s":"MC","x":9.72,"y":0.18},{"s":"MC","x":9.79,"y":0.194},{"s":"MC","x":9.85,"y":0.175},{"s":"MC","x":9.89,"y":0.167},
{"s":"LG1","x":0,"y":0},{"s":"LG1","x":0.02,"y":0.55},{"s":"LG1","x":0.05,"y":0.74},{"s":"LG1","x":0.09,"y":0.83},{"s":"LG1","x":0.14,"y":0.89},{"s":"LG1","x":0.2,"y":0.93},{"s":"LG1","x":0.27,"y":0.96},{"s":"LG1","x":0.34,"y":0.97},{"s":"LG1","x":0.4,"y":0.96},{"s":"LG1","x":0.47,"y":0.95},{"s":"LG1","x":0.54,"y":0.94},{"s":"LG1","x":0.6,"y":0.92},{"s":"LG1","x":0.66,"y":0.9},{"s":"LG1","x":0.72,"y":0.88},{"s":"LG1","x":0.78,"y":0.86},{"s":"LG1","x":0.84,"y":0.84},{"s":"LG1","x":0.9,"y":0.82},{"s":"LG1","x":0.96,"y":0.8},{"s":"LG1","x":1.02,"y":0.78},{"s":"LG1","x":1.08,"y":0.755},{"s":"LG1","x":1.14,"y":0.73},{"s":"LG1","x":1.2,"y":0.71},{"s":"LG1","x":1.26,"y":0.69},{"s":"LG1","x":1.32,"y":0.67},{"s":"LG1","x":1.38,"y":0.65},{"s":"LG1","x":1.44,"y":0.63},{"s":"LG1","x":1.5,"y":0.61},{"s":"LG1","x":1.56,"y":0.595},{"s":"LG1","x":1.62,"y":0.58},{"s":"LG1","x":1.68,"y":0.565},{"s":"LG1","x":1.72,"y":0.56},{"s":"LG1","x":1.8,"y":0.535},{"s":"LG1","x":1.87,"y":0.513},{"s":"LG1","x":1.93,"y":0.5},{"s":"LG1","x":1.99,"y":0.49},{"s":"LG1","x":2.05,"y":0.482},{"s":"LG1","x":2.11,"y":0.475},{"s":"LG1","x":2.18,"y":0.47},{"s":"LG1","x":2.25,"y":0.466},{"s":"LG1","x":2.33,"y":0.46},{"s":"LG1","x":2.41,"y":0.455},{"s":"LG1","x":2.48,"y":0.45},{"s":"LG1","x":2.55,"y":0.44},{"s":"LG1","x":2.6,"y":0.435},{"s":"LG1","x":2.65,"y":0.429},{"s":"LG1","x":2.72,"y":0.44},{"s":"LG1","x":2.8,"y":0.44},{"s":"LG1","x":2.88,"y":0.432},{"s":"LG1","x":2.97,"y":0.425},{"s":"LG1","x":3.05,"y":0.415},{"s":"LG1","x":3.12,"y":0.409},{"s":"LG1","x":3.17,"y":0.4},{"s":"LG1","x":3.21,"y":0.394},{"s":"LG1","x":3.26,"y":0.385},{"s":"LG1","x":3.3,"y":0.38},{"s":"LG1","x":3.35,"y":0.378},{"s":"LG1","x":3.39,"y":0.375},{"s":"LG1","x":3.44,"y":0.385},{"s":"LG1","x":3.48,"y":0.394},{"s":"LG1","x":3.53,"y":0.39},{"s":"LG1","x":3.58,"y":0.39},{"s":"LG1","x":3.62,"y":0.388},{"s":"LG1","x":3.67,"y":0.386},{"s":"LG1","x":3.72,"y":0.375},{"s":"LG1","x":3.76,"y":0.365},{"s":"LG1","x":3.82,"y":0.356},{"s":"LG1","x":3.87,"y":0.365},{"s":"LG1","x":3.92,"y":0.37},{"s":"LG1","x":3.97,"y":0.362},{"s":"LG1","x":4.02,"y":0.365},{"s":"LG1","x":4.07,"y":0.372},{"s":"LG1","x":4.12,"y":0.38},{"s":"LG1","x":4.18,"y":0.385},{"s":"LG1","x":4.24,"y":0.386},{"s":"LG1","x":4.29,"y":0.38},{"s":"LG1","x":4.35,"y":0.375},{"s":"LG1","x":4.41,"y":0.372},{"s":"LG1","x":4.48,"y":0.371},{"s":"LG1","x":4.52,"y":0.38},{"s":"LG1","x":4.56,"y":0.39},{"s":"LG1","x":4.6,"y":0.392},{"s":"LG1","x":4.635,"y":0.394},{"s":"LG1","x":4.645,"y":0.333},{"s":"LG1","x":4.72,"y":0.333},{"s":"LG1","x":4.8,"y":0.33},{"s":"LG1","x":4.88,"y":0.328},{"s":"LG1","x":4.95,"y":0.327},{"s":"LG1","x":5.02,"y":0.325},{"s":"LG1","x":5.07,"y":0.318},{"s":"LG1","x":5.11,"y":0.313},{"s":"LG1","x":5.15,"y":0.3},{"s":"LG1","x":5.18,"y":0.287},{"s":"LG1","x":5.23,"y":0.271},{"s":"LG1","x":5.3,"y":0.27},{"s":"LG1","x":5.38,"y":0.267},{"s":"LG1","x":5.46,"y":0.262},{"s":"LG1","x":5.54,"y":0.259},{"s":"LG1","x":5.62,"y":0.257},{"s":"LG1","x":5.7,"y":0.255},{"s":"LG1","x":5.77,"y":0.25},{"s":"LG1","x":5.84,"y":0.247},{"s":"LG1","x":5.92,"y":0.245},{"s":"LG1","x":5.99,"y":0.244},{"s":"LG1","x":6.07,"y":0.24},{"s":"LG1","x":6.14,"y":0.236},{"s":"LG1","x":6.22,"y":0.232},{"s":"LG1","x":6.29,"y":0.229},{"s":"LG1","x":6.37,"y":0.231},{"s":"LG1","x":6.44,"y":0.232},{"s":"LG1","x":6.52,"y":0.228},{"s":"LG1","x":6.59,"y":0.225},{"s":"LG1","x":6.66,"y":0.23},{"s":"LG1","x":6.74,"y":0.236},{"s":"LG1","x":6.79,"y":0.25},{"s":"LG1","x":6.83,"y":0.267},{"s":"LG1","x":6.86,"y":0.245},{"s":"LG1","x":6.9,"y":0.232},{"s":"LG1","x":6.97,"y":0.226},{"s":"LG1","x":7.04,"y":0.221},{"s":"LG1","x":7.12,"y":0.225},{"s":"LG1","x":7.19,"y":0.224},{"s":"LG1","x":7.27,"y":0.22},{"s":"LG1","x":7.35,"y":0.217},{"s":"LG1","x":7.42,"y":0.21},{"s":"LG1","x":7.5,"y":0.203},{"s":"LG1","x":7.59,"y":0.198},
{"s":"LG2","x":0,"y":0},{"s":"LG2","x":0.02,"y":0.5},{"s":"LG2","x":0.05,"y":0.72},{"s":"LG2","x":0.09,"y":0.82},{"s":"LG2","x":0.14,"y":0.88},{"s":"LG2","x":0.2,"y":0.92},{"s":"LG2","x":0.27,"y":0.95},{"s":"LG2","x":0.34,"y":0.97},{"s":"LG2","x":0.4,"y":0.99},{"s":"LG2","x":0.46,"y":0.98},{"s":"LG2","x":0.52,"y":0.97},{"s":"LG2","x":0.58,"y":0.96},{"s":"LG2","x":0.64,"y":0.95},{"s":"LG2","x":0.7,"y":0.93},{"s":"LG2","x":0.76,"y":0.925},{"s":"LG2","x":0.82,"y":0.92},{"s":"LG2","x":0.88,"y":0.905},{"s":"LG2","x":0.94,"y":0.9},{"s":"LG2","x":1.0,"y":0.88},{"s":"LG2","x":1.06,"y":0.87},{"s":"LG2","x":1.12,"y":0.855},{"s":"LG2","x":1.18,"y":0.84},{"s":"LG2","x":1.24,"y":0.82},{"s":"LG2","x":1.31,"y":0.8},{"s":"LG2","x":1.37,"y":0.756},{"s":"LG2","x":1.43,"y":0.738},{"s":"LG2","x":1.49,"y":0.72},{"s":"LG2","x":1.55,"y":0.703},{"s":"LG2","x":1.61,"y":0.668},{"s":"LG2","x":1.67,"y":0.645},{"s":"LG2","x":1.73,"y":0.629},{"s":"LG2","x":1.79,"y":0.614},{"s":"LG2","x":1.85,"y":0.6},{"s":"LG2","x":1.92,"y":0.583},{"s":"LG2","x":1.99,"y":0.57},{"s":"LG2","x":2.06,"y":0.56},{"s":"LG2","x":2.12,"y":0.565},{"s":"LG2","x":2.19,"y":0.571},{"s":"LG2","x":2.25,"y":0.556},{"s":"LG2","x":2.33,"y":0.548},{"s":"LG2","x":2.42,"y":0.55},{"s":"LG2","x":2.52,"y":0.545},{"s":"LG2","x":2.58,"y":0.54},{"s":"LG2","x":2.64,"y":0.541},{"s":"LG2","x":2.7,"y":0.54},{"s":"LG2","x":2.76,"y":0.533},{"s":"LG2","x":2.8,"y":0.52},{"s":"LG2","x":2.85,"y":0.498},{"s":"LG2","x":2.9,"y":0.49},{"s":"LG2","x":2.94,"y":0.475},{"s":"LG2","x":3.0,"y":0.472},{"s":"LG2","x":3.09,"y":0.467},{"s":"LG2","x":3.18,"y":0.464},{"s":"LG2","x":3.24,"y":0.46},{"s":"LG2","x":3.3,"y":0.456},{"s":"LG2","x":3.36,"y":0.455},{"s":"LG2","x":3.42,"y":0.452},{"s":"LG2","x":3.48,"y":0.452},{"s":"LG2","x":3.55,"y":0.449},{"s":"LG2","x":3.61,"y":0.445},{"s":"LG2","x":3.67,"y":0.44},{"s":"LG2","x":3.73,"y":0.436},{"s":"LG2","x":3.78,"y":0.433},{"s":"LG2","x":3.85,"y":0.43},{"s":"LG2","x":3.91,"y":0.429},{"s":"LG2","x":3.97,"y":0.435},{"s":"LG2","x":4.03,"y":0.437},{"s":"LG2","x":4.08,"y":0.42},{"s":"LG2","x":4.14,"y":0.406},{"s":"LG2","x":4.19,"y":0.398},{"s":"LG2","x":4.24,"y":0.391},{"s":"LG2","x":4.3,"y":0.398},{"s":"LG2","x":4.36,"y":0.402},{"s":"LG2","x":4.42,"y":0.396},{"s":"LG2","x":4.48,"y":0.39},{"s":"LG2","x":4.54,"y":0.395},{"s":"LG2","x":4.6,"y":0.394},{"s":"LG2","x":4.66,"y":0.394},{"s":"LG2","x":4.72,"y":0.392},{"s":"LG2","x":4.78,"y":0.391},{"s":"LG2","x":4.84,"y":0.385},{"s":"LG2","x":4.9,"y":0.379},{"s":"LG2","x":4.96,"y":0.373},{"s":"LG2","x":5.02,"y":0.368},{"s":"LG2","x":5.08,"y":0.362},{"s":"LG2","x":5.14,"y":0.356},{"s":"LG2","x":5.2,"y":0.35},{"s":"LG2","x":5.27,"y":0.344},{"s":"LG2","x":5.32,"y":0.338},{"s":"LG2","x":5.38,"y":0.333},{"s":"LG2","x":5.44,"y":0.33},{"s":"LG2","x":5.5,"y":0.325},{"s":"LG2","x":5.57,"y":0.318},{"s":"LG2","x":5.63,"y":0.31},{"s":"LG2","x":5.69,"y":0.315},{"s":"LG2","x":5.75,"y":0.313},{"s":"LG2","x":5.81,"y":0.31},{"s":"LG2","x":5.87,"y":0.305},{"s":"LG2","x":5.93,"y":0.3},{"s":"LG2","x":5.99,"y":0.302},{"s":"LG2","x":6.06,"y":0.296},{"s":"LG2","x":6.13,"y":0.3},{"s":"LG2","x":6.2,"y":0.3},{"s":"LG2","x":6.27,"y":0.292},{"s":"LG2","x":6.34,"y":0.298},{"s":"LG2","x":6.44,"y":0.294},{"s":"LG2","x":6.52,"y":0.3},{"s":"LG2","x":6.6,"y":0.297},{"s":"LG2","x":6.67,"y":0.305},{"s":"LG2","x":6.74,"y":0.302},{"s":"LG2","x":6.82,"y":0.294},{"s":"LG2","x":6.9,"y":0.3},{"s":"LG2","x":6.97,"y":0.296},{"s":"LG2","x":7.04,"y":0.298},{"s":"LG2","x":7.12,"y":0.304},{"s":"LG2","x":7.2,"y":0.298},{"s":"LG2","x":7.28,"y":0.3},{"s":"LG2","x":7.35,"y":0.302},{"s":"LG2","x":7.43,"y":0.296},{"s":"LG2","x":7.5,"y":0.3},{"s":"LG2","x":7.57,"y":0.293},{"s":"LG2","x":7.65,"y":0.294},{"s":"LG2","x":7.72,"y":0.3},{"s":"LG2","x":7.8,"y":0.296},{"s":"LG2","x":7.88,"y":0.29},{"s":"LG2","x":7.95,"y":0.294},{"s":"LG2","x":8.03,"y":0.3},{"s":"LG2","x":8.1,"y":0.292},{"s":"LG2","x":8.18,"y":0.296},{"s":"LG2","x":8.25,"y":0.294},{"s":"LG2","x":8.32,"y":0.298},{"s":"LG2","x":8.39,"y":0.29},{"s":"LG2","x":8.46,"y":0.287},
{"s":"LG3","x":0,"y":0},{"s":"LG3","x":0.02,"y":0.45},{"s":"LG3","x":0.05,"y":0.68},{"s":"LG3","x":0.08,"y":0.8},{"s":"LG3","x":0.12,"y":0.86},{"s":"LG3","x":0.18,"y":0.9},{"s":"LG3","x":0.25,"y":0.93},{"s":"LG3","x":0.32,"y":0.95},{"s":"LG3","x":0.4,"y":0.97},{"s":"LG3","x":0.48,"y":0.96},{"s":"LG3","x":0.55,"y":0.97},{"s":"LG3","x":0.62,"y":0.95},{"s":"LG3","x":0.7,"y":0.93},{"s":"LG3","x":0.78,"y":0.9},{"s":"LG3","x":0.86,"y":0.87},{"s":"LG3","x":0.94,"y":0.84},{"s":"LG3","x":1.02,"y":0.8},{"s":"LG3","x":1.1,"y":0.77},{"s":"LG3","x":1.18,"y":0.74},{"s":"LG3","x":1.25,"y":0.72},{"s":"LG3","x":1.31,"y":0.698},{"s":"LG3","x":1.38,"y":0.675},{"s":"LG3","x":1.46,"y":0.657},{"s":"LG3","x":1.52,"y":0.64},{"s":"LG3","x":1.58,"y":0.622},{"s":"LG3","x":1.64,"y":0.605},{"s":"LG3","x":1.7,"y":0.594},{"s":"LG3","x":1.76,"y":0.579},{"s":"LG3","x":1.84,"y":0.555},{"s":"LG3","x":1.92,"y":0.536},{"s":"LG3","x":2.0,"y":0.518},{"s":"LG3","x":2.05,"y":0.51},{"s":"LG3","x":2.1,"y":0.498},{"s":"LG3","x":2.16,"y":0.49},{"s":"LG3","x":2.22,"y":0.479},{"s":"LG3","x":2.28,"y":0.47},{"s":"LG3","x":2.33,"y":0.464},{"s":"LG3","x":2.42,"y":0.455},{"s":"LG3","x":2.52,"y":0.444},{"s":"LG3","x":2.58,"y":0.44},{"s":"LG3","x":2.64,"y":0.432},{"s":"LG3","x":2.7,"y":0.43},{"s":"LG3","x":2.76,"y":0.429},{"s":"LG3","x":2.82,"y":0.425},{"s":"LG3","x":2.88,"y":0.417},{"s":"LG3","x":2.94,"y":0.41},{"s":"LG3","x":3.0,"y":0.409},{"s":"LG3","x":3.06,"y":0.405},{"s":"LG3","x":3.12,"y":0.398},{"s":"LG3","x":3.18,"y":0.39},{"s":"LG3","x":3.24,"y":0.383},{"s":"LG3","x":3.3,"y":0.37},{"s":"LG3","x":3.37,"y":0.36},{"s":"LG3","x":3.43,"y":0.35},{"s":"LG3","x":3.5,"y":0.34},{"s":"LG3","x":3.56,"y":0.333},{"s":"LG3","x":3.6,"y":0.328},{"s":"LG3","x":3.65,"y":0.32},{"s":"LG3","x":3.69,"y":0.313},{"s":"LG3","x":3.75,"y":0.31},{"s":"LG3","x":3.82,"y":0.305},{"s":"LG3","x":3.88,"y":0.3},{"s":"LG3","x":3.94,"y":0.298},{"s":"LG3","x":3.99,"y":0.31},{"s":"LG3","x":4.03,"y":0.313},{"s":"LG3","x":4.08,"y":0.305},{"s":"LG3","x":4.14,"y":0.3},{"s":"LG3","x":4.19,"y":0.308},{"s":"LG3","x":4.24,"y":0.31},{"s":"LG3","x":4.3,"y":0.3},{"s":"LG3","x":4.36,"y":0.302},{"s":"LG3","x":4.42,"y":0.31},{"s":"LG3","x":4.48,"y":0.305},{"s":"LG3","x":4.54,"y":0.3},{"s":"LG3","x":4.6,"y":0.302},{"s":"LG3","x":4.66,"y":0.298},{"s":"LG3","x":4.72,"y":0.29},{"s":"LG3","x":4.78,"y":0.292},{"s":"LG3","x":4.84,"y":0.287},{"s":"LG3","x":4.9,"y":0.283},{"s":"LG3","x":4.96,"y":0.282},{"s":"LG3","x":5.03,"y":0.276},{"s":"LG3","x":5.1,"y":0.274},{"s":"LG3","x":5.16,"y":0.27},{"s":"LG3","x":5.23,"y":0.271},{"s":"LG3","x":5.3,"y":0.265},{"s":"LG3","x":5.38,"y":0.259},{"s":"LG3","x":5.46,"y":0.256},{"s":"LG3","x":5.54,"y":0.252},{"s":"LG3","x":5.61,"y":0.25},{"s":"LG3","x":5.68,"y":0.248},{"s":"LG3","x":5.76,"y":0.246},{"s":"LG3","x":5.84,"y":0.244},{"s":"LG3","x":5.92,"y":0.236},{"s":"LG3","x":5.99,"y":0.232},{"s":"LG3","x":6.07,"y":0.23},{"s":"LG3","x":6.14,"y":0.229},{"s":"LG3","x":6.22,"y":0.226},{"s":"LG3","x":6.29,"y":0.224},{"s":"LG3","x":6.37,"y":0.222},{"s":"LG3","x":6.44,"y":0.221},{"s":"LG3","x":6.52,"y":0.218},{"s":"LG3","x":6.59,"y":0.216},{"s":"LG3","x":6.67,"y":0.215},{"s":"LG3","x":6.74,"y":0.213},{"s":"LG3","x":6.82,"y":0.212},{"s":"LG3","x":6.9,"y":0.21},{"s":"LG3","x":6.97,"y":0.209},{"s":"LG3","x":7.04,"y":0.209},{"s":"LG3","x":7.12,"y":0.207},{"s":"LG3","x":7.19,"y":0.209},{"s":"LG3","x":7.27,"y":0.204},{"s":"LG3","x":7.35,"y":0.199},{"s":"LG3","x":7.42,"y":0.198},{"s":"LG3","x":7.49,"y":0.194},{"s":"LG3","x":7.56,"y":0.198},{"s":"LG3","x":7.62,"y":0.194},{"s":"LG3","x":7.68,"y":0.205},{"s":"LG3","x":7.74,"y":0.217},{"s":"LG3","x":7.8,"y":0.209},{"s":"LG3","x":7.86,"y":0.201},{"s":"LG3","x":7.92,"y":0.212},{"s":"LG3","x":7.98,"y":0.217},{"s":"LG3","x":8.04,"y":0.213},{"s":"LG3","x":8.1,"y":0.213},{"s":"LG3","x":8.16,"y":0.22},{"s":"LG3","x":8.22,"y":0.215},{"s":"LG3","x":8.28,"y":0.224},{"s":"LG3","x":8.34,"y":0.218},{"s":"LG3","x":8.4,"y":0.221},{"s":"LG3","x":8.47,"y":0.226},{"s":"LG3","x":8.55,"y":0.224},{"s":"LG3","x":8.62,"y":0.22},{"s":"LG3","x":8.7,"y":0.229},{"s":"LG3","x":8.77,"y":0.224},{"s":"LG3","x":8.85,"y":0.221},{"s":"LG3","x":8.92,"y":0.216},{"s":"LG3","x":9.0,"y":0.213},{"s":"LG3","x":9.04,"y":0.22},{"s":"LG3","x":9.07,"y":0.229},{"s":"LG3","x":9.13,"y":0.225},{"s":"LG3","x":9.19,"y":0.232},{"s":"LG3","x":9.25,"y":0.228},{"s":"LG3","x":9.31,"y":0.236},{"s":"LG3","x":9.37,"y":0.23},{"s":"LG3","x":9.43,"y":0.235},{"s":"LG3","x":9.48,"y":0.232},{"s":"LG3","x":9.53,"y":0.236},{"s":"LG3","x":9.58,"y":0.228},{"s":"LG3","x":9.61,"y":0.225},{"s":"LG3","x":9.64,"y":0.198},{"s":"LG3","x":9.67,"y":0.21},{"s":"LG3","x":9.7,"y":0.224},{"s":"LG3","x":9.76,"y":0.226},{"s":"LG3","x":9.82,"y":0.221},{"s":"LG3","x":9.88,"y":0.225},{"s":"LG3","x":9.94,"y":0.229},{"s":"LG3","x":10.0,"y":0.225},{"s":"LG3","x":10.03,"y":0.221},{"s":"LG3","x":10.09,"y":0.218},{"s":"LG3","x":10.15,"y":0.213},
{"s":"LG4","x":0,"y":0},{"s":"LG4","x":0.02,"y":0.5},{"s":"LG4","x":0.05,"y":0.7},{"s":"LG4","x":0.1,"y":0.82},{"s":"LG4","x":0.16,"y":0.88},{"s":"LG4","x":0.22,"y":0.92},{"s":"LG4","x":0.3,"y":0.95},{"s":"LG4","x":0.37,"y":0.97},{"s":"LG4","x":0.44,"y":0.98},{"s":"LG4","x":0.5,"y":0.96},{"s":"LG4","x":0.56,"y":0.95},{"s":"LG4","x":0.63,"y":0.93},{"s":"LG4","x":0.7,"y":0.91},{"s":"LG4","x":0.77,"y":0.89},{"s":"LG4","x":0.84,"y":0.87},{"s":"LG4","x":0.9,"y":0.85},{"s":"LG4","x":0.96,"y":0.83},{"s":"LG4","x":1.02,"y":0.81},{"s":"LG4","x":1.08,"y":0.79},{"s":"LG4","x":1.14,"y":0.77},{"s":"LG4","x":1.2,"y":0.75},{"s":"LG4","x":1.26,"y":0.73},{"s":"LG4","x":1.32,"y":0.71},{"s":"LG4","x":1.38,"y":0.69},{"s":"LG4","x":1.44,"y":0.67},{"s":"LG4","x":1.5,"y":0.65},{"s":"LG4","x":1.56,"y":0.63},{"s":"LG4","x":1.62,"y":0.61},{"s":"LG4","x":1.68,"y":0.59},{"s":"LG4","x":1.72,"y":0.575},{"s":"LG4","x":1.78,"y":0.55},{"s":"LG4","x":1.84,"y":0.53},{"s":"LG4","x":1.9,"y":0.515},{"s":"LG4","x":1.96,"y":0.505},{"s":"LG4","x":2.02,"y":0.5},{"s":"LG4","x":2.08,"y":0.495},{"s":"LG4","x":2.14,"y":0.49},{"s":"LG4","x":2.2,"y":0.487},{"s":"LG4","x":2.27,"y":0.48},{"s":"LG4","x":2.34,"y":0.475},{"s":"LG4","x":2.41,"y":0.47},{"s":"LG4","x":2.48,"y":0.465},{"s":"LG4","x":2.55,"y":0.463},{"s":"LG4","x":2.62,"y":0.46},{"s":"LG4","x":2.7,"y":0.455},{"s":"LG4","x":2.78,"y":0.452},{"s":"LG4","x":2.86,"y":0.45},{"s":"LG4","x":2.94,"y":0.447},{"s":"LG4","x":3.02,"y":0.445},{"s":"LG4","x":3.1,"y":0.455},{"s":"LG4","x":3.18,"y":0.46},{"s":"LG4","x":3.24,"y":0.458},{"s":"LG4","x":3.27,"y":0.456},{"s":"LG4","x":3.29,"y":0.42},{"s":"LG4","x":3.31,"y":0.405},{"s":"LG4","x":3.36,"y":0.39},{"s":"LG4","x":3.41,"y":0.38},{"s":"LG4","x":3.46,"y":0.37},{"s":"LG4","x":3.5,"y":0.36},{"s":"LG4","x":3.55,"y":0.35},{"s":"LG4","x":3.6,"y":0.34},{"s":"LG4","x":3.66,"y":0.33},{"s":"LG4","x":3.72,"y":0.325},{"s":"LG4","x":3.78,"y":0.32},{"s":"LG4","x":3.84,"y":0.315},{"s":"LG4","x":3.9,"y":0.31},{"s":"LG4","x":3.96,"y":0.3},{"s":"LG4","x":4.02,"y":0.295},{"s":"LG4","x":4.08,"y":0.3},{"s":"LG4","x":4.14,"y":0.29},{"s":"LG4","x":4.2,"y":0.295},{"s":"LG4","x":4.26,"y":0.29},{"s":"LG4","x":4.32,"y":0.285},{"s":"LG4","x":4.38,"y":0.29},{"s":"LG4","x":4.44,"y":0.282},{"s":"LG4","x":4.5,"y":0.285},{"s":"LG4","x":4.56,"y":0.28},{"s":"LG4","x":4.62,"y":0.283},{"s":"LG4","x":4.68,"y":0.278},{"s":"LG4","x":4.74,"y":0.28},{"s":"LG4","x":4.8,"y":0.275},{"s":"LG4","x":4.86,"y":0.278},{"s":"LG4","x":4.92,"y":0.272},{"s":"LG4","x":4.98,"y":0.275},{"s":"LG4","x":5.05,"y":0.27},{"s":"LG4","x":5.12,"y":0.265},{"s":"LG4","x":5.2,"y":0.262},{"s":"LG4","x":5.3,"y":0.258},{"s":"LG4","x":5.4,"y":0.255},{"s":"LG4","x":5.5,"y":0.25},{"s":"LG4","x":5.6,"y":0.252},{"s":"LG4","x":5.7,"y":0.245},{"s":"LG4","x":5.8,"y":0.24},{"s":"LG4","x":5.9,"y":0.238},{"s":"LG4","x":6.0,"y":0.235},
{"s":"DG1","x":0,"y":0},{"s":"DG1","x":0.01,"y":0.3},{"s":"DG1","x":0.03,"y":0.6},{"s":"DG1","x":0.06,"y":0.75},{"s":"DG1","x":0.1,"y":0.82},{"s":"DG1","x":0.15,"y":0.86},{"s":"DG1","x":0.2,"y":0.88},{"s":"DG1","x":0.25,"y":0.9},{"s":"DG1","x":0.3,"y":0.92},{"s":"DG1","x":0.35,"y":0.94},{"s":"DG1","x":0.4,"y":0.95},{"s":"DG1","x":0.45,"y":0.96},{"s":"DG1","x":0.5,"y":0.97},{"s":"DG1","x":0.55,"y":0.99},{"s":"DG1","x":0.6,"y":0.985},{"s":"DG1","x":0.65,"y":1.0},{"s":"DG1","x":0.7,"y":0.99},{"s":"DG1","x":0.77,"y":0.999},{"s":"DG1","x":0.83,"y":0.984},{"s":"DG1","x":0.89,"y":0.976},{"s":"DG1","x":0.95,"y":0.972},{"s":"DG1","x":1.0,"y":0.96},{"s":"DG1","x":1.04,"y":0.949},{"s":"DG1","x":1.1,"y":0.935},{"s":"DG1","x":1.16,"y":0.922},{"s":"DG1","x":1.2,"y":0.91},{"s":"DG1","x":1.25,"y":0.899},{"s":"DG1","x":1.31,"y":0.88},{"s":"DG1","x":1.37,"y":0.87},{"s":"DG1","x":1.43,"y":0.86},{"s":"DG1","x":1.49,"y":0.865},{"s":"DG1","x":1.55,"y":0.86},{"s":"DG1","x":1.6,"y":0.84},{"s":"DG1","x":1.64,"y":0.825},{"s":"DG1","x":1.7,"y":0.807},{"s":"DG1","x":1.75,"y":0.8},{"s":"DG1","x":1.79,"y":0.791},{"s":"DG1","x":1.85,"y":0.795},{"s":"DG1","x":1.9,"y":0.79},{"s":"DG1","x":1.95,"y":0.798},{"s":"DG1","x":2.0,"y":0.802},{"s":"DG1","x":2.04,"y":0.785},{"s":"DG1","x":2.07,"y":0.768},{"s":"DG1","x":2.13,"y":0.753},{"s":"DG1","x":2.18,"y":0.735},{"s":"DG1","x":2.22,"y":0.721},{"s":"DG1","x":2.27,"y":0.705},{"s":"DG1","x":2.31,"y":0.691},{"s":"DG1","x":2.36,"y":0.685},{"s":"DG1","x":2.4,"y":0.68},{"s":"DG1","x":2.46,"y":0.678},{"s":"DG1","x":2.52,"y":0.683},{"s":"DG1","x":2.58,"y":0.66},{"s":"DG1","x":2.64,"y":0.655},{"s":"DG1","x":2.7,"y":0.652},{"s":"DG1","x":2.75,"y":0.658},{"s":"DG1","x":2.79,"y":0.66},{"s":"DG1","x":2.84,"y":0.655},{"s":"DG1","x":2.88,"y":0.652},{"s":"DG1","x":2.94,"y":0.629},{"s":"DG1","x":3.0,"y":0.632},{"s":"DG1","x":3.03,"y":0.633},{"s":"DG1","x":3.08,"y":0.63},{"s":"DG1","x":3.12,"y":0.633},{"s":"DG1","x":3.17,"y":0.645},{"s":"DG1","x":3.21,"y":0.657},{"s":"DG1","x":3.24,"y":0.648},{"s":"DG1","x":3.27,"y":0.637},{"s":"DG1","x":3.33,"y":0.614},{"s":"DG1","x":3.38,"y":0.612},{"s":"DG1","x":3.42,"y":0.61},{"s":"DG1","x":3.48,"y":0.606},{"s":"DG1","x":3.53,"y":0.59},{"s":"DG1","x":3.57,"y":0.579},{"s":"DG1","x":3.62,"y":0.572},{"s":"DG1","x":3.66,"y":0.568},{"s":"DG1","x":3.73,"y":0.553},{"s":"DG1","x":3.78,"y":0.548},{"s":"DG1","x":3.82,"y":0.545},{"s":"DG1","x":3.88,"y":0.56},{"s":"DG1","x":3.94,"y":0.571},{"s":"DG1","x":3.98,"y":0.555},{"s":"DG1","x":4.03,"y":0.541},{"s":"DG1","x":4.08,"y":0.548},{"s":"DG1","x":4.12,"y":0.553},{"s":"DG1","x":4.16,"y":0.54},{"s":"DG1","x":4.21,"y":0.533},{"s":"DG1","x":4.27,"y":0.535},{"s":"DG1","x":4.33,"y":0.537},{"s":"DG1","x":4.39,"y":0.53},{"s":"DG1","x":4.45,"y":0.525},{"s":"DG1","x":4.51,"y":0.527},{"s":"DG1","x":4.57,"y":0.529},{"s":"DG1","x":4.63,"y":0.52},{"s":"DG1","x":4.69,"y":0.514},{"s":"DG1","x":4.75,"y":0.512},{"s":"DG1","x":4.81,"y":0.51},{"s":"DG1","x":4.87,"y":0.508},{"s":"DG1","x":4.93,"y":0.506},{"s":"DG1","x":5.0,"y":0.51},{"s":"DG1","x":5.05,"y":0.512},{"s":"DG1","x":5.11,"y":0.514},{"s":"DG1","x":5.15,"y":0.51},{"s":"DG1","x":5.2,"y":0.506},{"s":"DG1","x":5.25,"y":0.49},{"s":"DG1","x":5.29,"y":0.479},{"s":"DG1","x":5.35,"y":0.48},{"s":"DG1","x":5.41,"y":0.483},{"s":"DG1","x":5.47,"y":0.47},{"s":"DG1","x":5.54,"y":0.456},{"s":"DG1","x":5.6,"y":0.46},{"s":"DG1","x":5.66,"y":0.464},{"s":"DG1","x":5.72,"y":0.456},{"s":"DG1","x":5.78,"y":0.452},{"s":"DG1","x":5.81,"y":0.449},{"s":"DG1","x":5.84,"y":0.437},{"s":"DG1","x":5.9,"y":0.438},{"s":"DG1","x":5.95,"y":0.44},{"s":"DG1","x":5.99,"y":0.441},{"s":"DG1","x":6.04,"y":0.435},{"s":"DG1","x":6.08,"y":0.429},{"s":"DG1","x":6.14,"y":0.433},{"s":"DG1","x":6.2,"y":0.437},{"s":"DG1","x":6.26,"y":0.433},{"s":"DG1","x":6.32,"y":0.429},{"s":"DG1","x":6.37,"y":0.427},{"s":"DG1","x":6.41,"y":0.425},{"s":"DG1","x":6.45,"y":0.44},{"s":"DG1","x":6.5,"y":0.452},{"s":"DG1","x":6.56,"y":0.45},{"s":"DG1","x":6.62,"y":0.449},{"s":"DG1","x":6.68,"y":0.445},{"s":"DG1","x":6.74,"y":0.441},{"s":"DG1","x":6.79,"y":0.443},{"s":"DG1","x":6.83,"y":0.441},{"s":"DG1","x":6.855,"y":0.4},{"s":"DG1","x":6.9,"y":0.398},{"s":"DG1","x":6.97,"y":0.4},{"s":"DG1","x":7.04,"y":0.398},{"s":"DG1","x":7.1,"y":0.395},{"s":"DG1","x":7.16,"y":0.392},{"s":"DG1","x":7.22,"y":0.391},{"s":"DG1","x":7.28,"y":0.387},{"s":"DG1","x":7.35,"y":0.383},{"s":"DG1","x":7.4,"y":0.375},{"s":"DG1","x":7.44,"y":0.368},{"s":"DG1","x":7.5,"y":0.37},{"s":"DG1","x":7.565,"y":0.368},{"s":"DG1","x":7.575,"y":0.34},{"s":"DG1","x":7.64,"y":0.342},{"s":"DG1","x":7.71,"y":0.34},{"s":"DG1","x":7.77,"y":0.332},{"s":"DG1","x":7.83,"y":0.325},{"s":"DG1","x":7.89,"y":0.33},{"s":"DG1","x":7.95,"y":0.336},{"s":"DG1","x":8.01,"y":0.32},{"s":"DG1","x":8.07,"y":0.305},{"s":"DG1","x":8.13,"y":0.302},{"s":"DG1","x":8.19,"y":0.3},{"s":"DG1","x":8.25,"y":0.298},{"s":"DG1","x":8.31,"y":0.296},{"s":"DG1","x":8.37,"y":0.294},{"s":"DG1","x":8.42,"y":0.29},{"s":"DG1","x":8.46,"y":0.287},
{"s":"DG2","x":0,"y":0},{"s":"DG2","x":0.01,"y":0.3},{"s":"DG2","x":0.03,"y":0.55},{"s":"DG2","x":0.06,"y":0.72},{"s":"DG2","x":0.1,"y":0.8},{"s":"DG2","x":0.15,"y":0.86},{"s":"DG2","x":0.2,"y":0.88},{"s":"DG2","x":0.25,"y":0.91},{"s":"DG2","x":0.3,"y":0.94},{"s":"DG2","x":0.35,"y":0.96},{"s":"DG2","x":0.4,"y":0.97},{"s":"DG2","x":0.45,"y":0.985},{"s":"DG2","x":0.5,"y":0.99},{"s":"DG2","x":0.55,"y":0.975},{"s":"DG2","x":0.6,"y":0.97},{"s":"DG2","x":0.65,"y":0.985},{"s":"DG2","x":0.7,"y":0.99},{"s":"DG2","x":0.75,"y":0.97},{"s":"DG2","x":0.8,"y":0.95},{"s":"DG2","x":0.85,"y":0.935},{"s":"DG2","x":0.9,"y":0.92},{"s":"DG2","x":0.95,"y":0.91},{"s":"DG2","x":1.0,"y":0.9},{"s":"DG2","x":1.05,"y":0.895},{"s":"DG2","x":1.1,"y":0.89},{"s":"DG2","x":1.15,"y":0.88},{"s":"DG2","x":1.2,"y":0.87},{"s":"DG2","x":1.25,"y":0.855},{"s":"DG2","x":1.3,"y":0.845},{"s":"DG2","x":1.38,"y":0.83},{"s":"DG2","x":1.44,"y":0.84},{"s":"DG2","x":1.5,"y":0.83},{"s":"DG2","x":1.56,"y":0.835},{"s":"DG2","x":1.63,"y":0.822},{"s":"DG2","x":1.66,"y":0.799},{"s":"DG2","x":1.72,"y":0.795},{"s":"DG2","x":1.78,"y":0.787},{"s":"DG2","x":1.83,"y":0.77},{"s":"DG2","x":1.87,"y":0.76},{"s":"DG2","x":1.93,"y":0.741},{"s":"DG2","x":1.99,"y":0.73},{"s":"DG2","x":2.05,"y":0.718},{"s":"DG2","x":2.11,"y":0.715},{"s":"DG2","x":2.17,"y":0.721},{"s":"DG2","x":2.23,"y":0.698},{"s":"DG2","x":2.27,"y":0.685},{"s":"DG2","x":2.31,"y":0.672},{"s":"DG2","x":2.37,"y":0.645},{"s":"DG2","x":2.42,"y":0.635},{"s":"DG2","x":2.46,"y":0.629},{"s":"DG2","x":2.52,"y":0.625},{"s":"DG2","x":2.58,"y":0.622},{"s":"DG2","x":2.64,"y":0.599},{"s":"DG2","x":2.7,"y":0.617},{"s":"DG2","x":2.76,"y":0.612},{"s":"DG2","x":2.82,"y":0.61},{"s":"DG2","x":2.88,"y":0.594},{"s":"DG2","x":2.94,"y":0.622},{"s":"DG2","x":3.0,"y":0.633},{"s":"DG2","x":3.05,"y":0.625},{"s":"DG2","x":3.1,"y":0.62},{"s":"DG2","x":3.17,"y":0.61},{"s":"DG2","x":3.24,"y":0.599},{"s":"DG2","x":3.3,"y":0.605},{"s":"DG2","x":3.35,"y":0.6},{"s":"DG2","x":3.4,"y":0.59},{"s":"DG2","x":3.45,"y":0.58},{"s":"DG2","x":3.5,"y":0.575},{"s":"DG2","x":3.55,"y":0.565},{"s":"DG2","x":3.6,"y":0.56},{"s":"DG2","x":3.66,"y":0.55},{"s":"DG2","x":3.73,"y":0.545},{"s":"DG2","x":3.8,"y":0.53},{"s":"DG2","x":3.87,"y":0.521},{"s":"DG2","x":3.96,"y":0.51},{"s":"DG2","x":4.06,"y":0.502},{"s":"DG2","x":4.12,"y":0.49},{"s":"DG2","x":4.21,"y":0.467},{"s":"DG2","x":4.25,"y":0.48},{"s":"DG2","x":4.3,"y":0.487},{"s":"DG2","x":4.36,"y":0.49},{"s":"DG2","x":4.42,"y":0.495},{"s":"DG2","x":4.48,"y":0.488},{"s":"DG2","x":4.54,"y":0.479},{"s":"DG2","x":4.6,"y":0.464},{"s":"DG2","x":4.66,"y":0.449},{"s":"DG2","x":4.72,"y":0.445},{"s":"DG2","x":4.78,"y":0.441},{"s":"DG2","x":4.84,"y":0.437},{"s":"DG2","x":4.9,"y":0.433},{"s":"DG2","x":4.96,"y":0.43},{"s":"DG2","x":5.02,"y":0.425},{"s":"DG2","x":5.1,"y":0.42},{"s":"DG2","x":5.18,"y":0.417},{"s":"DG2","x":5.24,"y":0.412},{"s":"DG2","x":5.29,"y":0.409},{"s":"DG2","x":5.35,"y":0.41},{"s":"DG2","x":5.41,"y":0.406},{"s":"DG2","x":5.48,"y":0.4},{"s":"DG2","x":5.54,"y":0.394},{"s":"DG2","x":5.6,"y":0.388},{"s":"DG2","x":5.66,"y":0.383},{"s":"DG2","x":5.72,"y":0.38},{"s":"DG2","x":5.78,"y":0.379},{"s":"DG2","x":5.84,"y":0.375},{"s":"DG2","x":5.9,"y":0.371},{"s":"DG2","x":5.97,"y":0.373},{"s":"DG2","x":6.05,"y":0.371},{"s":"DG2","x":6.1,"y":0.362},{"s":"DG2","x":6.14,"y":0.356},{"s":"DG2","x":6.2,"y":0.355},{"s":"DG2","x":6.26,"y":0.351},{"s":"DG2","x":6.32,"y":0.343},{"s":"DG2","x":6.38,"y":0.336},{"s":"DG2","x":6.44,"y":0.33},{"s":"DG2","x":6.5,"y":0.325},{"s":"DG2","x":6.57,"y":0.318},{"s":"DG2","x":6.65,"y":0.31},{"s":"DG2","x":6.7,"y":0.32},{"s":"DG2","x":6.74,"y":0.328},{"s":"DG2","x":6.8,"y":0.335},{"s":"DG2","x":6.85,"y":0.34},{"s":"DG2","x":6.9,"y":0.348},{"s":"DG2","x":6.95,"y":0.351},{"s":"DG2","x":7.01,"y":0.34},{"s":"DG2","x":7.07,"y":0.33},{"s":"DG2","x":7.13,"y":0.32},{"s":"DG2","x":7.19,"y":0.313},{"s":"DG2","x":7.25,"y":0.318},{"s":"DG2","x":7.3,"y":0.32},{"s":"DG2","x":7.37,"y":0.322},{"s":"DG2","x":7.44,"y":0.325},{"s":"DG2","x":7.49,"y":0.318},{"s":"DG2","x":7.53,"y":0.313},{"s":"DG2","x":7.59,"y":0.32},{"s":"DG2","x":7.65,"y":0.33},{"s":"DG2","x":7.7,"y":0.338},{"s":"DG2","x":7.74,"y":0.34},{"s":"DG2","x":7.8,"y":0.335},{"s":"DG2","x":7.85,"y":0.33},{"s":"DG2","x":7.9,"y":0.333},{"s":"DG2","x":7.95,"y":0.336},{"s":"DG2","x":8.0,"y":0.322},{"s":"DG2","x":8.04,"y":0.313},{"s":"DG2","x":8.1,"y":0.308},{"s":"DG2","x":8.15,"y":0.305},{"s":"DG2","x":8.2,"y":0.303},{"s":"DG2","x":8.25,"y":0.302}
],
"labels":[
{"label":"CH/OH, OCR=1","x":5.095,"y":0.732},
{"label":"CH, OCR= 2 to 3","x":6.48,"y":0.637},
{"label":"Marsh, OCR=1","x":8.489,"y":0.5526},
{"label":"Marsh, OCR=1.5","x":9.195,"y":0.4104}
],
"arrows":[
{"x":4.842,"y":0.7064,"x2":3.891,"y2":0.5942},
{"x":3.891,"y":0.5942,"x2":4.09,"y2":0.6347},
{"x":3.891,"y":0.5942,"x2":4.226,"y2":0.6116},
{"x":6.353,"y":0.615,"x2":4.299,"y2":0.4289},
{"x":4.299,"y":0.4289,"x2":4.516,"y2":0.4613},
{"x":4.299,"y":0.4289,"x2":4.661,"y2":0.4382},
{"x":8.443,"y":0.5329,"x2":5.14,"y2":0.2555},
{"x":5.14,"y":0.2555,"x2":5.412,"y2":0.2925},
{"x":5.14,"y":0.2555,"x2":5.538,"y2":0.2659},
{"x":9.149,"y":0.3942,"x2":5.629,"y2":0.1572},
{"x":5.629,"y":0.1572,"x2":5.91,"y2":0.1896},
{"x":5.629,"y":0.1572,"x2":6.0,"y2":0.1665}
],
"ellipses":[
{"id":"E1","x":3.729,"y":0.5584},
{"id":"E2","x":4.09,"y":0.3896},
{"id":"E3","x":4.86,"y":0.2324},
{"id":"E4","x":5.285,"y":0.126}
]
},
"layer":[
{"data":{"values":[{}]},
 "mark":{"type":"rect","fill":null,"fillOpacity":0,"stroke":"black","strokeWidth":1.5,"clip":false},
 "encoding":{"x":{"datum":-1.33,"type":"quantitative","scale":{"domain":[0,12],"nice":false,"zero":false},"axis":null},"x2":{"datum":12.127},"y":{"datum":1.1827,"type":"quantitative","scale":{"domain":[0,1],"nice":false,"zero":false},"axis":null},"y2":{"datum":-0.1514}}},
{"data":{"name":"lines"},
 "mark":{"type":"line","strokeWidth":4.8,"strokeJoin":"round","strokeCap":"round"},
 "encoding":{
  "x":{"field":"x","type":"quantitative","scale":{"domain":[0,12],"nice":false,"zero":false},
   "axis":{"orient":"bottom","title":"Displacement (in)","titlePadding":26,"values":[0,1,2,3,4,5,6,7,8,9,10,11,12],"format":"d","grid":true,"tickSize":-7,"labelPadding":30}},
  "y":{"field":"y","type":"quantitative","scale":{"domain":[0,1],"nice":false,"zero":false},
   "axis":{"orient":"left","title":"τ/Su","titlePadding":16,"values":[0,0.1,0.2,0.3,0.4,0.5,0.6,0.7,0.8,0.9,1],"format":".2f","grid":true,"tickSize":-7,"labelPadding":27}},
  "color":{"field":"s","type":"nominal","legend":null,
   "scale":{"domain":["O1","O2","O3","MA","MB","MC","LG1","LG2","LG3","LG4","DG1","DG2"],
    "range":["#ff6600","#ff6600","#ff6600","#ff00ff","#ff00ff","#ff00ff","#969696","#969696","#969696","#969696","#7f7f7f","#7f7f7f"]}}}},
{"data":{"name":"ellipses"},
 "mark":{"type":"point","filled":false,"strokeWidth":5,"opacity":1,"color":"black"},
 "encoding":{
  "x":{"field":"x","type":"quantitative","axis":{"orient":"bottom","title":null,"labels":false,"grid":false,"domain":false,"tickSize":-4,"values":[0.2,0.4,0.6,0.8,1.2,1.4,1.6,1.8,2.2,2.4,2.6,2.8,3.2,3.4,3.6,3.8,4.2,4.4,4.6,4.8,5.2,5.4,5.6,5.8,6.2,6.4,6.6,6.8,7.2,7.4,7.6,7.8,8.2,8.4,8.6,8.8,9.2,9.4,9.6,9.8,10.2,10.4,10.6,10.8,11.2,11.4,11.6,11.8]}},
  "y":{"field":"y","type":"quantitative","axis":{"orient":"left","title":null,"labels":false,"grid":false,"domain":false,"tickSize":-4,"values":[0.02,0.04,0.06,0.08,0.12,0.14,0.16,0.18,0.22,0.24,0.26,0.28,0.32,0.34,0.36,0.38,0.42,0.44,0.46,0.48,0.52,0.54,0.56,0.58,0.62,0.64,0.66,0.68,0.72,0.74,0.76,0.78,0.82,0.84,0.86,0.88,0.92,0.94,0.96,0.98]}},
  "shape":{"field":"id","type":"nominal","legend":null,"scale":{"domain":["E1","E2","E3","E4"],"range":["M -0.459 0 A 0.459 1 0 1 0 0.459 0 A 0.459 1 0 1 0 -0.459 0 Z","M -0.591 0 A 0.591 1 0 1 0 0.591 0 A 0.591 1 0 1 0 -0.591 0 Z","M -0.604 0 A 0.604 1 0 1 0 0.604 0 A 0.604 1 0 1 0 -0.604 0 Z","M -0.633 0 A 0.633 1 0 1 0 0.633 0 A 0.633 1 0 1 0 -0.633 0 Z"]}},
  "size":{"field":"id","type":"ordinal","legend":null,"scale":{"domain":["E1","E2","E3","E4"],"range":[5476,8649,8281,11881]}}}},
{"data":{"name":"arrows"},
 "mark":{"type":"rule","strokeWidth":7,"color":"black","strokeCap":"round"},
 "encoding":{"x":{"field":"x","type":"quantitative","axis":null},"y":{"field":"y","type":"quantitative","axis":null},"x2":{"field":"x2"},"y2":{"field":"y2"}}},
{"data":{"name":"labels"},
 "mark":{"type":"text","align":"left","baseline":"middle","font":"Liberation Sans","fontSize":30,"fontWeight":"bold","color":"black"},
 "encoding":{"x":{"field":"x","type":"quantitative","axis":null},"y":{"field":"y","type":"quantitative","axis":null},"text":{"field":"label"}}}
]
}
